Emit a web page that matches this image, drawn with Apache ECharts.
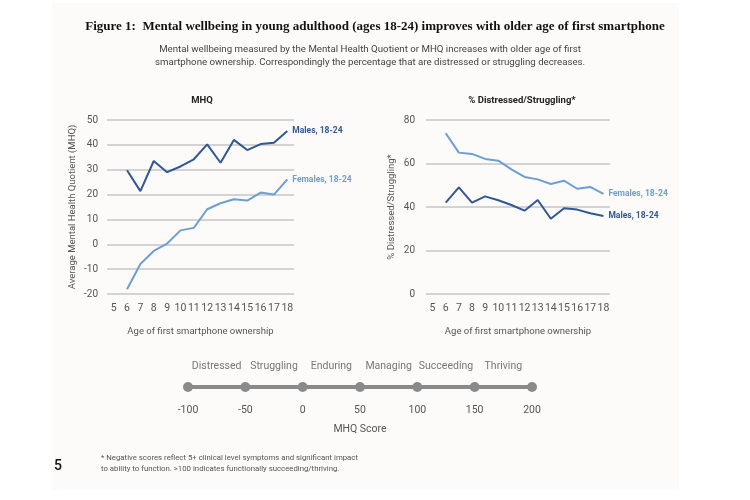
<!DOCTYPE html>
<html>
<head>
<meta charset="utf-8">
<script src="https://cdn.jsdelivr.net/npm/echarts@6/dist/echarts.min.js"></script>
<style>
html,body{margin:0;padding:0;background:#ffffff;}
#chart{width:750px;height:500px;}
</style>
</head>
<body>
<div id="chart"></div>
<script>
// ---- data ----
const ages = ['5','6','7','8','9','10','11','12','13','14','15','16','17','18'];
const mhqMales   = [null, 29.8, 21.4, 33.5, 29.0, 31.3, 34.2, 40.2, 32.8, 42.0, 37.9, 40.3, 40.8, 45.6];
const mhqFemales = [null, -18.1, -7.9, -2.7, 0.3, 5.6, 6.6, 14.1, 16.5, 18.1, 17.6, 20.8, 20.0, 26.1];
const distFemales = [null, 73.9, 65.0, 64.4, 62.1, 61.3, 57.3, 53.8, 52.7, 50.6, 52.1, 48.4, 49.2, 46.0];
const distMales   = [null, 42.0, 49.0, 42.0, 44.9, 43.1, 40.9, 38.3, 43.2, 34.6, 39.4, 38.8, 37.1, 35.9];
const scaleTicks = [-100, -50, 0, 50, 100, 150, 200];
const scaleBandNames = ['Distressed', 'Struggling', 'Enduring', 'Managing', 'Succeeding', 'Thriving'];
const scaleBandMids = [-75, -25, 25, 75, 125, 175];

const MALE = '#2e5897';
const FEMALE = '#6d9fd4';
const GRID = '#c6c6c6';
const TXT = '#555555';
const FONT = 'Roboto';

const chart = echarts.init(document.getElementById('chart'), null, {renderer: 'canvas'});

function catAxis(gridIndex) {
  return {
    type: 'category', gridIndex: gridIndex, data: ages, boundaryGap: true,
    axisLine: {show: false}, axisTick: {show: false},
    axisLabel: {interval: 0, color: TXT, fontSize: 10.5, fontFamily: FONT, margin: 9},
    name: 'Age of first smartphone ownership', nameLocation: 'middle', nameGap: 33,
    nameTextStyle: {color: TXT, fontSize: 9.5, fontFamily: FONT}
  };
}
function valAxis(gridIndex, min, max, interval, name, margin) {
  return {
    type: 'value', gridIndex: gridIndex, min: min, max: max, interval: interval,
    axisLine: {show: false}, axisTick: {show: false},
    splitLine: {lineStyle: {color: GRID, width: 1.5}},
    axisLabel: {color: TXT, fontSize: 10, fontFamily: FONT, margin: margin},
    name: name, nameLocation: 'middle', nameGap: 29, nameRotate: 90,
    nameTextStyle: {color: TXT, fontSize: 9.5, fontFamily: FONT}
  };
}
function lineSeries(name, data, color, x, y, labelText) {
  return {
    type: 'line', name: name, data: data, xAxisIndex: x, yAxisIndex: y,
    symbol: 'none', smooth: false, connectNulls: false,
    lineStyle: {color: color, width: 2},
    endLabel: {show: true, formatter: labelText, color: color, fontSize: 8.5,
               fontWeight: 'bold', fontFamily: FONT, distance: 5},
    emphasis: {disabled: true}, animation: false
  };
}

const option = {
  animation: false,
  backgroundColor: '#ffffff',
  graphic: [
    {type: 'rect', shape: {x: 52, y: 3, width: 627, height: 487}, style: {fill: '#fcfbf9'}, z: -10, silent: true},
    {type: 'text', x: 375, y: 27, style: {text: 'Figure 1:  Mental wellbeing in young adulthood (ages 18-24) improves with older age of first smartphone',
      font: 'bold 13px "Liberation Serif"', fill: '#111', textAlign: 'center', textVerticalAlign: 'middle'}},
    {type: 'text', x: 370, y: 50, style: {text: 'Mental wellbeing measured by the Mental Health Quotient or MHQ increases with older age of first',
      font: '9.7px Roboto', fill: '#444', textAlign: 'center', textVerticalAlign: 'middle'}},
    {type: 'text', x: 370, y: 63, style: {text: 'smartphone ownership. Correspondingly the percentage that are distressed or struggling decreases.',
      font: '9.7px Roboto', fill: '#444', textAlign: 'center', textVerticalAlign: 'middle'}},
    {type: 'text', x: 54, y: 466, style: {text: '5', font: '500 14px Roboto', fill: '#111', textVerticalAlign: 'middle'}},
    {type: 'text', x: 101, y: 458, style: {text: '* Negative scores reflect 5+ clinical level symptoms and significant impact',
      font: '7.8px Roboto', fill: '#555', textVerticalAlign: 'middle'}},
    {type: 'text', x: 101, y: 469, style: {text: 'to ability to function. >100 indicates functionally succeeding/thriving.',
      font: '7.8px Roboto', fill: '#555', textVerticalAlign: 'middle'}}
  ],
  title: [
    {text: 'MHQ', left: 197, top: 91, textAlign: 'center',
     textStyle: {fontSize: 9.5, fontWeight: 'bold', color: '#222', fontFamily: FONT}},
    {text: '% Distressed/Struggling*', left: 517, top: 91, textAlign: 'center',
     textStyle: {fontSize: 9.5, fontWeight: 'bold', color: '#222', fontFamily: FONT}}
  ],
  grid: [
    {left: 107, top: 120, width: 187, height: 174},
    {left: 426, top: 120, width: 184, height: 174},
    {left: 188, top: 377, width: 344, height: 20}
  ],
  xAxis: [
    catAxis(0),
    catAxis(1),
    {type: 'value', gridIndex: 2, min: -100, max: 200, interval: 50,
     axisLine: {show: false, onZero: true}, axisTick: {show: false}, splitLine: {show: false},
     axisLabel: {color: TXT, fontSize: 10.5, fontFamily: FONT, margin: 8},
     name: 'MHQ Score', nameLocation: 'middle', nameGap: 27,
     nameTextStyle: {color: TXT, fontSize: 10.5, fontFamily: FONT}}
  ],
  yAxis: [
    valAxis(0, -20, 50, 10, 'Average Mental Health Quotient (MHQ)', 9),
    valAxis(1, 0, 80, 20, '% Distressed/Struggling*', 11),
    {type: 'value', gridIndex: 2, min: -1, max: 1, show: false}
  ],
  series: [
    lineSeries('Males MHQ', mhqMales, MALE, 0, 0, 'Males, 18-24'),
    lineSeries('Females MHQ', mhqFemales, FEMALE, 0, 0, 'Females, 18-24'),
    lineSeries('Females dist', distFemales, FEMALE, 1, 1, 'Females, 18-24'),
    lineSeries('Males dist', distMales, MALE, 1, 1, 'Males, 18-24'),
    {type: 'line', xAxisIndex: 2, yAxisIndex: 2,
     data: scaleTicks.map(v => [v, 0]),
     symbol: 'circle', symbolSize: 10,
     itemStyle: {color: '#8a8a8a'}, lineStyle: {color: '#8a8a8a', width: 4},
     emphasis: {disabled: true}},
    {type: 'scatter', xAxisIndex: 2, yAxisIndex: 2,
     data: scaleBandMids.map((v, i) => ({value: [v, 0], name: scaleBandNames[i]})),
     symbolSize: 0,
     label: {show: true, position: 'top', distance: 15, formatter: p => p.name,
             color: TXT, fontSize: 10.5, fontFamily: FONT},
     emphasis: {disabled: true}}
  ]
};
chart.setOption(option);
</script>
</body>
</html>
